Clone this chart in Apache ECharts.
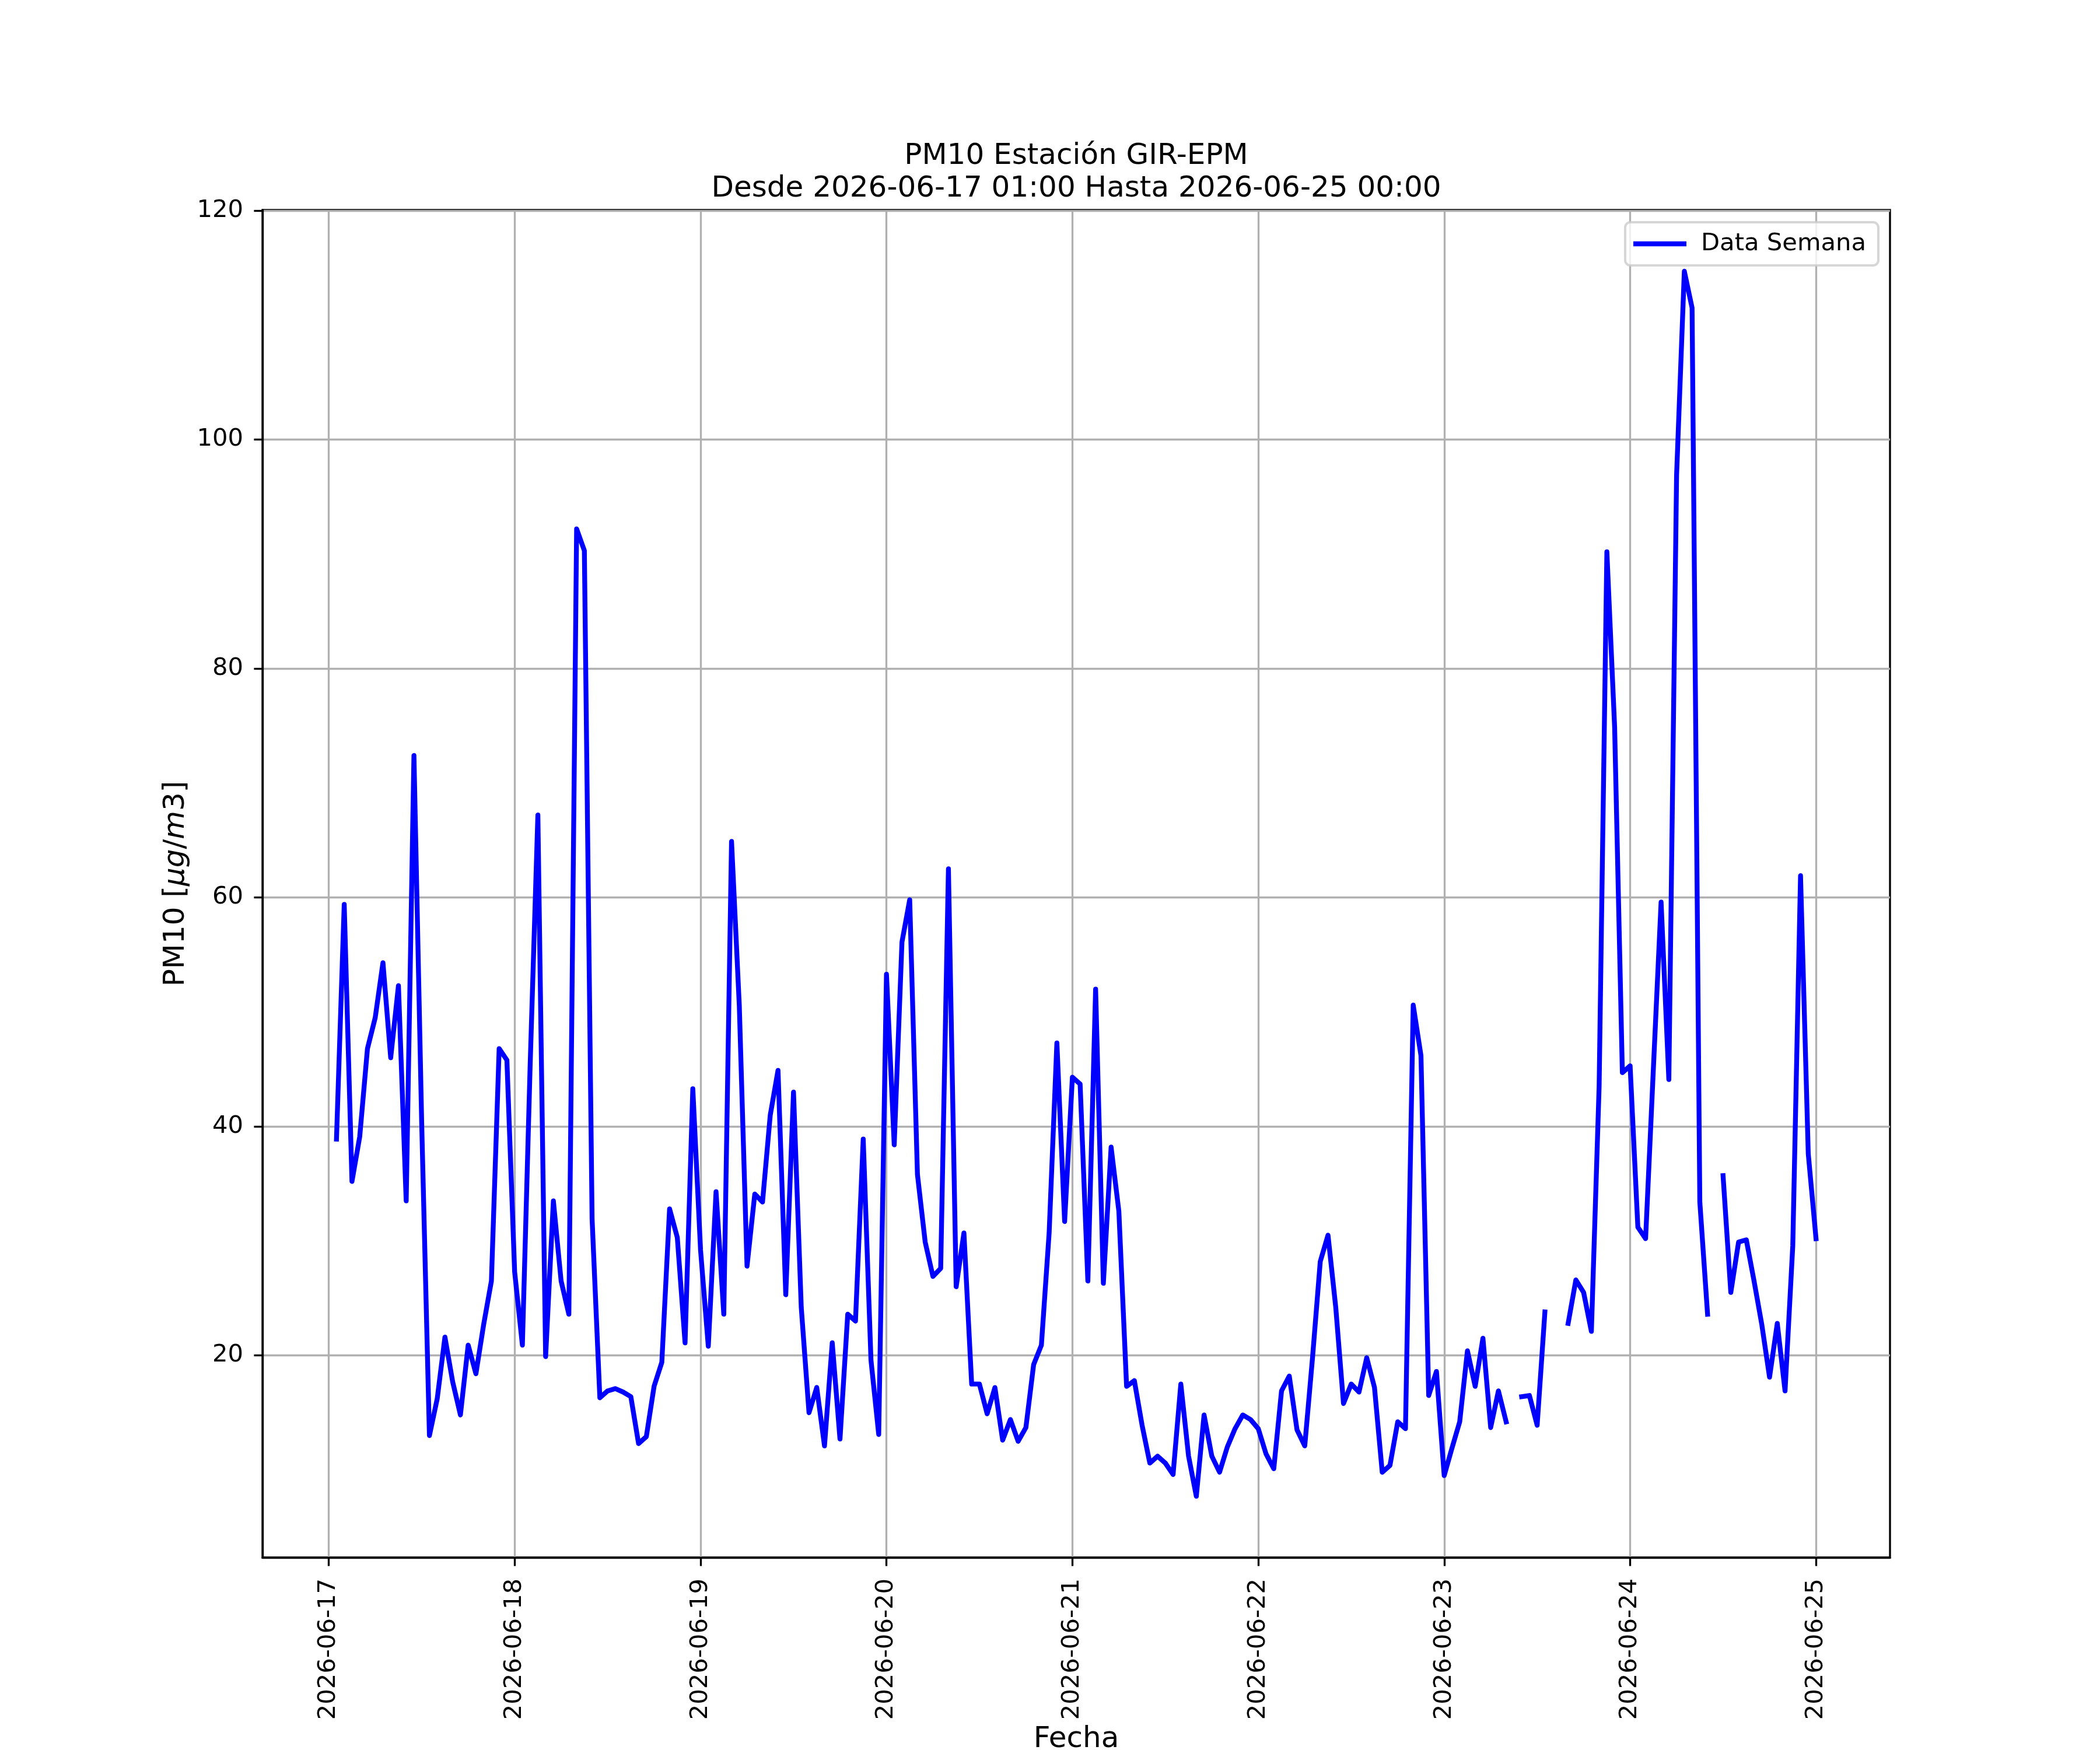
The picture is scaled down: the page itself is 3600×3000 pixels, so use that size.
<!DOCTYPE html>
<html>
<head>
<meta charset="utf-8">
<title>PM10 Estación GIR-EPM</title>
<script src="https://cdn.jsdelivr.net/npm/echarts@6/dist/echarts.min.js"></script>
<style>
html, body { margin: 0; padding: 0; background: #fff; }
#chart { width: 3600px; height: 3000px; }
</style>
</head>
<body>
<div id="chart"></div>
<script>
// marcas del eje x (00:00 de cada día)
const dayLabels = ['2026-06-17', '2026-06-18', '2026-06-19', '2026-06-20', '2026-06-21',
    '2026-06-22', '2026-06-23', '2026-06-24', '2026-06-25'];
const yTicks = [20, 40, 60, 80, 100, 120];

// PM10 horario [ug/m3], cada lista va de hh 01:00 a 00:00 del día siguiente (null = sin dato)
const pm10Dia17 = [38.9, 59.4, 35.2, 39.1, 46.8, 49.5, 54.3, 46.0, 52.3, 33.5, 72.4, 40.3,
    13.0, 16.2, 21.6, 17.7, 14.8, 20.9, 18.4, 22.7, 26.5, 46.8, 45.8, 27.3];
const pm10Dia18 = [20.9, 45.3, 67.2, 19.9, 33.5, 26.5, 23.6, 92.2, 90.3, 31.9, 16.3, 16.9,
    17.1, 16.8, 16.4, 12.3, 12.9, 17.3, 19.4, 32.8, 30.3, 21.1, 43.3, 29.2];
const pm10Dia19 = [20.8, 34.3, 23.6, 64.9, 50.6, 27.8, 34.1, 33.4, 41.0, 44.9, 25.3, 43.0,
    24.2, 15.0, 17.2, 12.1, 21.1, 12.7, 23.6, 23.0, 38.9, 19.6, 13.1, 53.3];
const pm10Dia20 = [38.4, 56.1, 59.8, 35.8, 29.9, 26.9, 27.6, 62.5, 26.0, 30.7, 17.5, 17.5,
    14.9, 17.2, 12.6, 14.4, 12.5, 13.7, 19.2, 20.9, 30.7, 47.3, 31.7, 44.3];
const pm10Dia21 = [43.7, 26.5, 52.0, 26.3, 38.2, 32.6, 17.3, 17.8, 13.9, 10.6, 11.2, 10.6,
    9.6, 17.5, 11.2, 7.7, 14.8, 11.2, 9.8, 12.0, 13.6, 14.8, 14.4, 13.6];
const pm10Dia22 = [11.4, 10.1, 16.9, 18.2, 13.5, 12.1, 19.8, 28.2, 30.5, 24.2, 15.8, 17.5,
    16.8, 19.8, 17.2, 9.8, 10.4, 14.2, 13.6, 50.6, 46.2, 16.5, 18.6, 9.5];
const pm10Dia23 = [11.9, 14.2, 20.4, 17.3, 21.5, 13.7, 16.9, 14.2, null, 16.4, 16.5, 13.9,
    23.8, null, null, 22.8, 26.6, 25.5, 22.1, 43.5, 90.2, 74.9, 44.7, 45.3];
const pm10Dia24 = [31.2, 30.2, 45.0, 59.6, 44.1, 96.9, 114.7, 111.5, 33.4, 23.6, null, 35.7,
    25.5, 29.9, 30.1, 26.5, 22.7, 18.1, 22.8, 16.9, 29.6, 61.9, 37.6, 30.2];

const pm10 = [].concat(pm10Dia17, pm10Dia18, pm10Dia19, pm10Dia20,
    pm10Dia21, pm10Dia22, pm10Dia23, pm10Dia24);

// x = horas desde 2026-06-17 00:00
const serie = pm10.map((v, i) => [i + 1, v]);
const dayTicks = dayLabels.map((d, i) => i * 24);

// márgenes automáticos de 5% como en matplotlib
const validos = pm10.filter(v => v !== null);
const yLo = Math.min(...validos), yHi = Math.max(...validos);
const yMin = yLo - 0.05 * (yHi - yLo), yMax = yHi + 0.05 * (yHi - yLo);
const xLo = 1, xHi = pm10.length;
const xMin = xLo - 0.05 * (xHi - xLo), xMax = xHi + 0.05 * (xHi - xLo);

const FONT = 'DejaVu Sans';
const lineaEje = { color: '#000', width: 3.33 };
const lineaGrid = { color: '#b0b0b0', width: 3.33 };

let myChart = echarts.init(document.getElementById('chart'), null, { renderer: 'canvas' });

myChart.setOption({
    animation: false,
    backgroundColor: '#fff',
    title: {
        text: 'PM10 Estación GIR-EPM\nDesde 2026-06-17 01:00 Hasta 2026-06-25 00:00',
        left: 1845,
        top: 240,
        padding: 0,
        textAlign: 'center',
        textStyle: { fontFamily: FONT, fontSize: 50, fontWeight: 'normal', color: '#000', lineHeight: 56 }
    },
    legend: {
        right: 380,
        top: 381,
        icon: 'rect',
        itemWidth: 91,
        itemHeight: 8.3,
        padding: [16, 21, 16, 14],
        backgroundColor: 'rgba(255,255,255,0.8)',
        borderColor: 'rgba(204,204,204,0.8)',
        borderWidth: 4,
        borderRadius: 9,
        textStyle: { fontFamily: FONT, fontSize: 41.7, color: '#000', padding: [0, 0, 0, 20] },
        data: ['Data Semana']
    },
    grid: {
        left: 450,
        right: 360,
        top: 360,
        bottom: 330,
        show: true,
        borderColor: '#000',
        borderWidth: 3.33,
        backgroundColor: 'transparent',
        outerBoundsMode: 'none'
    },
    xAxis: {
        type: 'value',
        min: xMin,
        max: xMax,
        name: 'Fecha',
        nameLocation: 'middle',
        nameGap: 287,
        nameTextStyle: { fontFamily: FONT, fontSize: 50, color: '#000' },
        axisLine: { show: true, onZero: false, lineStyle: lineaEje },
        axisTick: { show: true, length: 14.6, customValues: dayTicks, lineStyle: lineaEje },
        axisLabel: {
            customValues: dayTicks,
            rotate: 90,
            margin: 36,
            fontFamily: FONT,
            fontSize: 41.7,
            color: '#000',
            formatter: v => dayLabels[Math.round(v / 24)]
        },
        splitLine: { show: true, lineStyle: lineaGrid }
    },
    yAxis: {
        type: 'value',
        min: yMin,
        max: yMax,
        name: '{n|PM10 [}{i|μg}{n|/}{i|m}{n|3]}',
        nameLocation: 'middle',
        nameGap: 122,
        nameRotate: 90,
        nameTextStyle: {
            fontFamily: FONT, fontSize: 50, color: '#000',
            rich: {
                n: { fontFamily: FONT, fontSize: 50, color: '#000' },
                i: { fontFamily: FONT, fontSize: 50, color: '#000', fontStyle: 'italic' }
            }
        },
        axisLine: { show: true, onZero: false, lineStyle: lineaEje },
        axisTick: { show: true, length: 14.6, customValues: yTicks, lineStyle: lineaEje },
        axisLabel: { customValues: yTicks, margin: 33, fontFamily: FONT, fontSize: 41.7, color: '#000' },
        splitLine: { show: true, lineStyle: lineaGrid }
    },
    series: [{
        name: 'Data Semana',
        type: 'line',
        data: serie,
        symbol: 'none',
        showSymbol: false,
        connectNulls: false,
        silent: true,
        itemStyle: { color: '#0000ff' },
        lineStyle: { color: '#0000ff', width: 8.33, cap: 'square', join: 'round' }
    }]
});
</script>
</body>
</html>
